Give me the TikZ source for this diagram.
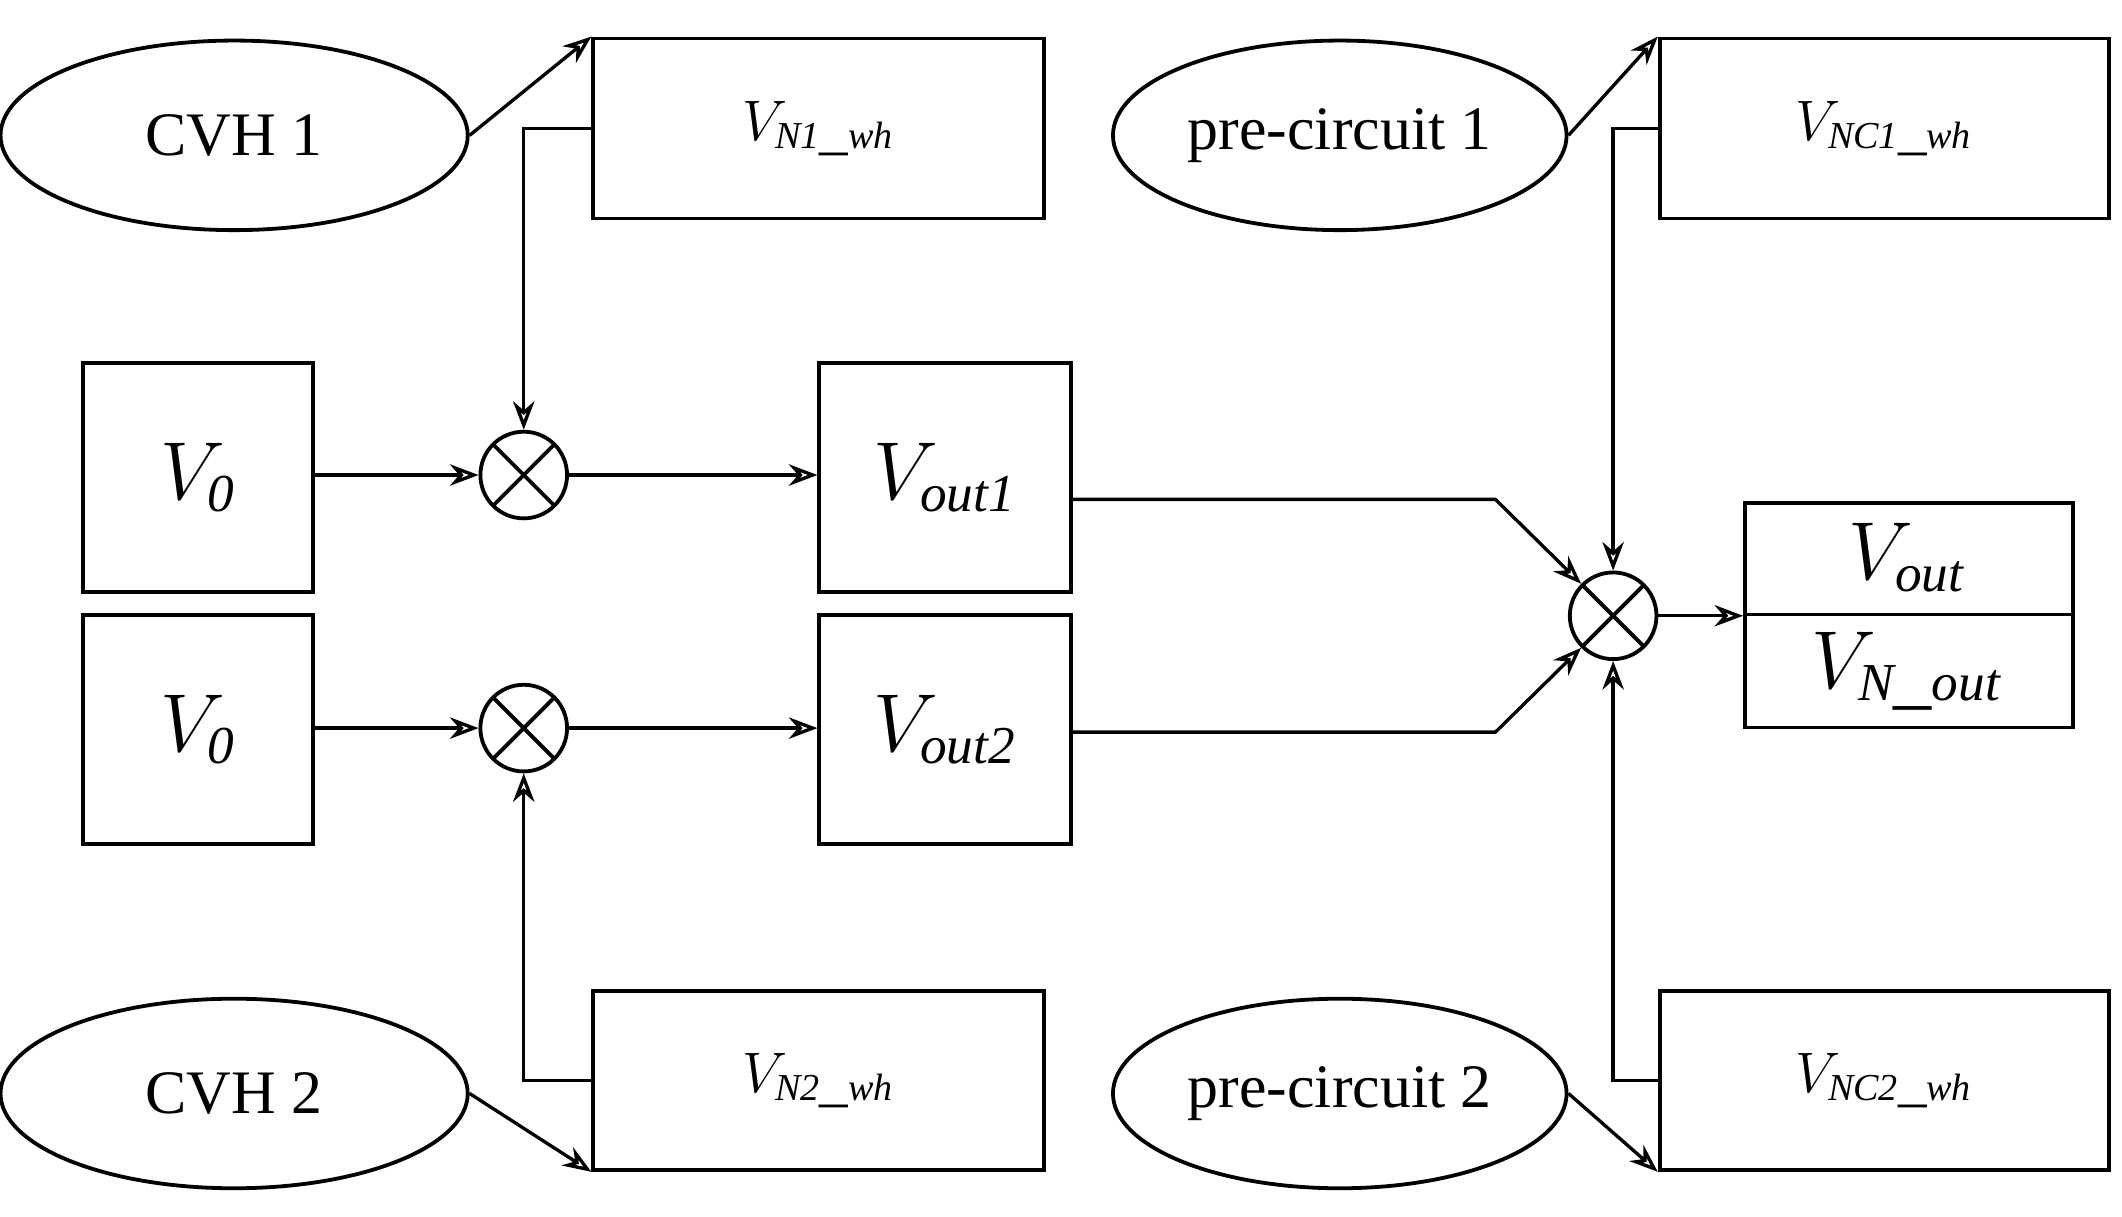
\documentclass[tikz,border=0pt]{standalone}
\usepackage{fontspec}
\setmainfont{Liberation Serif}
\usetikzlibrary{positioning,shapes.geometric,arrows.meta}
\tikzset{>={Stealth[length=6pt,width=4.5pt,open]}}
\tikzset{
  blk/.style={draw, line width=0.8pt, inner sep=0pt, anchor=north west},
  src/.style={draw, ellipse, line width=0.8pt, inner sep=0pt, minimum width=3.35cm, minimum height=1.4cm, font=\fontsize{13}{15}\selectfont},
  mult/.style={draw, circle, line width=0.8pt, minimum size=0.64cm, inner sep=0pt,
    path picture={\draw (path picture bounding box.south west) -- (path picture bounding box.north east)
      (path picture bounding box.north west) -- (path picture bounding box.south east);}},
  lbl/.style={font=\fontsize{12}{14}\selectfont},
  big/.style={font=\fontsize{16}{18}\selectfont}
}
\begin{document}
\begin{tikzpicture}[x=0.01cm, y=-0.01cm, line width=0.7pt]
  \useasboundingbox (0,0) rectangle (1568,899);
  % sources
  \node[src, minimum width=3.45cm] (cvh1) at (173,100) {CVH 1};
  \node[src, minimum width=3.45cm] (cvh2) at (173,808) {CVH 2};
  \node[src] (pre1) at (990,100) {pre-circuit 1};
  \node[src] (pre2) at (990,808) {pre-circuit 2};
  % noise boxes
  \node[blk, minimum width=3.33cm, minimum height=1.33cm, label={[lbl]center:$V_{\mathit{N1\_wh}}$}] (n1) at (437,27) {};
  \node[blk, minimum width=3.33cm, minimum height=1.32cm, label={[lbl]center:$V_{\mathit{N2\_wh}}$}] (n2) at (437,731) {};
  \node[blk, minimum width=3.32cm, minimum height=1.33cm, label={[lbl]center:$V_{\mathit{NC1\_wh}}$}] (nc1) at (1225,27) {};
  \node[blk, minimum width=3.32cm, minimum height=1.32cm, label={[lbl]center:$V_{\mathit{NC2\_wh}}$}] (nc2) at (1225,731) {};
  % signal boxes
  \node[blk, minimum width=1.7cm, minimum height=1.69cm, label={[big]center:$V_{\mathit{0}}$}] (v0a) at (60,267) {};
  \node[blk, minimum width=1.7cm, minimum height=1.69cm, label={[big]center:$V_{\mathit{0}}$}] (v0b) at (60,453) {};
  \node[blk, minimum width=1.86cm, minimum height=1.69cm, label={[big]center:$V_{\mathit{out1}}$}] (vo1) at (604,267) {};
  \node[blk, minimum width=1.86cm, minimum height=1.69cm, label={[big]center:$V_{\mathit{out2}}$}] (vo2) at (604,453) {};
  \node[blk, minimum width=2.42cm, minimum height=1.66cm] (vout) at (1288,370) {};
  \draw (vout.west |- 0,454) -- (vout.east |- 0,454);
  \node[big] at (1409,412) {$V_{\mathit{out}}$};
  \node[big] at (1409,496) {$V_{\mathit{N\_out}}$};
  % multipliers
  \node[mult] (m1) at (387,351) {};
  \node[mult] (m2) at (387,538) {};
  \node[mult] (m3) at (1192,455) {};
  \coordinate (k1) at (1105,369);
  \coordinate (k2) at (1105,541);
  % connectors
  \draw[->] (cvh1.east) -- (n1.north west);
  \draw[->] (cvh2.east) -- (n2.south west);
  \draw[->] (pre1.east) -- (nc1.north west);
  \draw[->] (pre2.east) -- (nc2.south west);
  \draw[->] (n1.west) -| (m1.north);
  \draw[->] (n2.west) -| (m2.south);
  \draw[->] (nc1.west) -| (m3.north);
  \draw[->] (nc2.west) -| (m3.south);
  \draw[->] (v0a.east |- m1) -- (m1);
  \draw[->] (v0b.east |- m2) -- (m2);
  \draw[->] (m1) -- (vo1.west |- m1);
  \draw[->] (m2) -- (vo2.west |- m2);
  \draw[->] (vo1.east |- k1) -- (k1) -- (m3.north west);
  \draw[->] (vo2.east |- k2) -- (k2) -- (m3.south west);
  \draw[->] (m3) -- (vout.west |- m3);
\end{tikzpicture}
\end{document}
